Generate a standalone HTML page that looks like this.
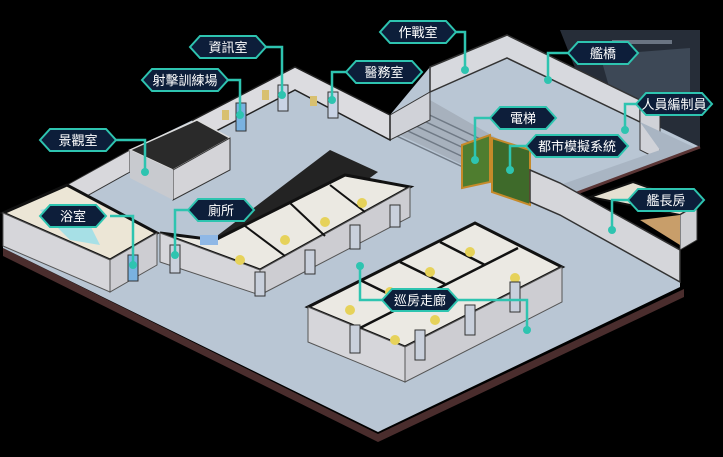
<!DOCTYPE html>
<html><head><meta charset="utf-8"><style>
html,body{margin:0;padding:0;background:#000;}
svg{display:block;}
text{font-family:"Liberation Sans","Noto Sans CJK TC",sans-serif;font-size:13px;fill:#fff;}
</style></head><body>
<svg width="723" height="457" viewBox="0 0 723 457" xmlns="http://www.w3.org/2000/svg">
<rect width="723" height="457" fill="#000"/>
<polygon points="3,248 378,434 684,289 684,297 378,442 3,256" fill="#4a2d2d"/>
<polygon points="3,213 67,185 130,150 193,120 295,67 390,115 430,67 507,35 640,100 700,147 577,193 680,250 680,287 378,432 3,248" fill="#b9c6d4"/>
<polygon points="560,30 700,30 700,147 640,118 640,100 575,68" fill="#262d38"/>
<polygon points="600,55 690,48 690,100 660,115 610,90" fill="#3d4856"/>
<rect x="612" y="40" width="60" height="4" fill="#6a7482"/>
<polygon points="430,67 507,35 640,100 640,122 507,58 430,92" fill="#d7d9de" stroke="#333" stroke-width="1.5"/>
<polygon points="640,100 660,110 660,160 640,150" fill="#d0d2d8" stroke="#333"/>
<polygon points="640,122 700,150 700,160 577,195 560,185 660,150" fill="#a9b5c3"/>
<polygon points="577,193 700,147 700,200 640,182 600,198" fill="#000"/>
<line x1="577" y1="193" x2="700" y2="147" stroke="#5a3535" stroke-width="3"/>
<polygon points="385,128 430,100 500,140 463,165" fill="#a7b1bd"/>
<g stroke="#6f7985" stroke-width="1.5"><line x1="388" y1="132" x2="465" y2="168"/><line x1="395" y1="125" x2="472" y2="161"/><line x1="403" y1="120" x2="479" y2="155"/><line x1="411" y1="115" x2="486" y2="150"/><line x1="419" y1="110" x2="493" y2="145"/></g>
<polygon points="390,115 430,92 430,120 390,140" fill="#d0d2d8" stroke="#333"/>
<polygon points="462,145 490,135 490,182 462,188" fill="#4f7d2f" stroke="#c58a2a" stroke-width="2"/>
<polygon points="492,138 530,150 530,205 492,192" fill="#3e6a2a" stroke="#c58a2a" stroke-width="2"/>
<polygon points="530,170 560,183 680,250 680,282 560,215 530,202" fill="#d5d6da" stroke="#333" stroke-width="1.5"/>
<polygon points="590,197 633,182 697,205 680,215" fill="#e5e0d2" stroke="#111" stroke-width="2"/>
<polygon points="680,250 697,240 697,205 680,215" fill="#cfd0d4" stroke="#333"/>
<polygon points="640,220 680,215 680,245" fill="#c89e6a"/>
<polygon points="193,120 295,67 390,115 390,140 295,90 193,143" fill="#dcdce0" stroke="#222" stroke-width="1.5"/>
<g fill="#d8c070"><rect x="222" y="110" width="7" height="10"/><rect x="262" y="90" width="7" height="10"/><rect x="310" y="96" width="7" height="10"/></g>
<g fill="#c9d4e6" stroke="#333"><rect x="236" y="103" width="10" height="28" fill="#7ab2e0"/><rect x="278" y="85" width="10" height="26"/><rect x="328" y="92" width="10" height="26"/></g>
<polygon points="67,185 130,150 130,172 67,207" fill="#d8d8dc" stroke="#333"/>
<polygon points="130,150 197,120 230,138 173,170" fill="#2a2a2a" stroke="#ddd" stroke-width="1.5"/>
<polygon points="173,170 230,138 230,170 173,200" fill="#d4d4d8" stroke="#333"/>
<polygon points="130,150 173,170 173,200 130,178" fill="#c8cacf"/>
<polygon points="205,245 330,150 378,172 255,262" fill="#232323"/>
<polygon points="3,213 67,185 157,233 110,260" fill="#ece6d6" stroke="#111" stroke-width="3"/>
<polygon points="40,210 60,205 90,225 100,245 70,240" fill="#a7e0e6"/>
<polygon points="3,213 110,260 110,292 3,246" fill="#d6d6da" stroke="#555"/>
<polygon points="110,260 157,233 157,265 110,292" fill="#cdcdd2" stroke="#555"/>
<rect x="128" y="255" width="10" height="26" fill="#7ab2e0" stroke="#333"/>
<polygon points="160,233 215,240 345,175 410,187 260,270" fill="#ebe9e2" stroke="#111" stroke-width="3"/>
<polygon points="160,233 260,270 260,295 160,262" fill="#d6d6da" stroke="#555"/>
<polygon points="260,270 410,187 410,217 260,295" fill="#cdcdd2" stroke="#555"/>
<g stroke="#111" stroke-width="2"><line x1="245" y1="226" x2="285" y2="256"/><line x1="290" y1="203" x2="325" y2="236"/><line x1="330" y1="185" x2="365" y2="212"/></g>
<g fill="#e6d25a"><circle cx="240" cy="260" r="5"/><circle cx="285" cy="240" r="5"/><circle cx="325" cy="222" r="5"/><circle cx="362" cy="203" r="5"/></g>
<g fill="#c9d0dc" stroke="#333"><rect x="170" y="245" width="10" height="28"/><rect x="255" y="272" width="10" height="24"/><rect x="305" y="250" width="10" height="24"/><rect x="350" y="225" width="10" height="24"/><rect x="390" y="205" width="10" height="22"/></g>
<rect x="200" y="235" width="18" height="10" fill="#8fb8e6"/>
<polygon points="308,307 475,223 562,267 405,347" fill="#ebe9e3" stroke="#111" stroke-width="3"/>
<polygon points="308,307 405,347 405,382 308,342" fill="#d6d6da" stroke="#555"/>
<polygon points="405,347 562,267 562,302 405,382" fill="#cdcdd2" stroke="#555"/>
<g stroke="#111" stroke-width="2.5"><line x1="360" y1="328" x2="518" y2="248"/><line x1="360" y1="280" x2="405" y2="302"/><line x1="400" y1="262" x2="445" y2="284"/><line x1="440" y1="242" x2="485" y2="265"/></g>
<g fill="#e6d25a"><circle cx="350" cy="310" r="5"/><circle cx="390" cy="292" r="5"/><circle cx="430" cy="272" r="5"/><circle cx="470" cy="252" r="5"/><circle cx="395" cy="340" r="5"/><circle cx="435" cy="320" r="5"/><circle cx="515" cy="278" r="5"/></g>
<g fill="#c9d0dc" stroke="#333"><rect x="415" y="330" width="10" height="30"/><rect x="465" y="305" width="10" height="30"/><rect x="510" y="282" width="10" height="30"/><rect x="350" y="325" width="10" height="28"/></g>
<g stroke="#2ec4b0" stroke-width="2.5" fill="none">
<polyline points="255,47 282,47 282,95"/>
<polyline points="220,80 240,80 240,115"/>
<polyline points="355,72 332,72 332,100"/>
<polyline points="455,32 465,32 465,70"/>
<polyline points="570,53 548,53 548,80"/>
<polyline points="640,104 625,104 625,130"/>
<polyline points="492,118 475,118 475,160"/>
<polyline points="530,146 510,146 510,170"/>
<polyline points="115,140 145,140 145,172"/>
<polyline points="110,216 133,216 133,265"/>
<polyline points="190,210 175,210 175,255"/>
<polyline points="630,200 612,200 612,230"/>
<polyline points="385,300 360,300 360,266"/>
<polyline points="455,300 527,300 527,330"/>
</g>
<g fill="#2ec4b0">
<circle cx="282" cy="95" r="4"/><circle cx="240" cy="115" r="4"/><circle cx="332" cy="100" r="4"/><circle cx="465" cy="70" r="4"/><circle cx="548" cy="80" r="4"/><circle cx="625" cy="130" r="4"/><circle cx="475" cy="160" r="4"/><circle cx="510" cy="170" r="4"/><circle cx="145" cy="172" r="4"/><circle cx="133" cy="265" r="4"/><circle cx="175" cy="255" r="4"/><circle cx="612" cy="230" r="4"/><circle cx="360" cy="266" r="4"/><circle cx="527" cy="330" r="4"/>
</g>
<g stroke="#2ec4b0" stroke-width="2" fill="#0d1e3a">
<polygon points="190,47 200,36 256,36 266,47 256,58 200,58"/>
<polygon points="142,80 152,69 218,69 228,80 218,91 152,91"/>
<polygon points="346,72 356,61 412,61 422,72 412,83 356,83"/>
<polygon points="380,32 390,21 446,21 456,32 446,43 390,43"/>
<polygon points="568,53 578,42 628,42 638,53 628,64 578,64"/>
<polygon points="636,104 646,93 702,93 712,104 702,115 646,115"/>
<polygon points="490,118 500,107 546,107 556,118 546,129 500,129"/>
<polygon points="526,146 536,135 618,135 628,146 618,157 536,157"/>
<polygon points="40,140 50,129 106,129 116,140 106,151 50,151"/>
<polygon points="40,216 50,205 96,205 106,216 96,227 50,227"/>
<polygon points="188,210 198,199 244,199 254,210 244,221 198,221"/>
<polygon points="628,200 638,189 694,189 704,200 694,211 638,211"/>
<polygon points="382,300 392,289 448,289 458,300 448,311 392,311"/>
</g>
<g text-anchor="middle">
<text x="228" y="52">資訊室</text>
<text x="185" y="85">射擊訓練場</text>
<text x="384" y="77">醫務室</text>
<text x="418" y="37">作戰室</text>
<text x="603" y="58">艦橋</text>
<text x="674" y="109">人員編制員</text>
<text x="523" y="123">電梯</text>
<text x="577" y="151">都市模擬系統</text>
<text x="78" y="145">景觀室</text>
<text x="73" y="221">浴室</text>
<text x="221" y="215">廁所</text>
<text x="666" y="205">艦長房</text>
<text x="420" y="305">巡房走廊</text>
</g>
</svg>
</body></html>
